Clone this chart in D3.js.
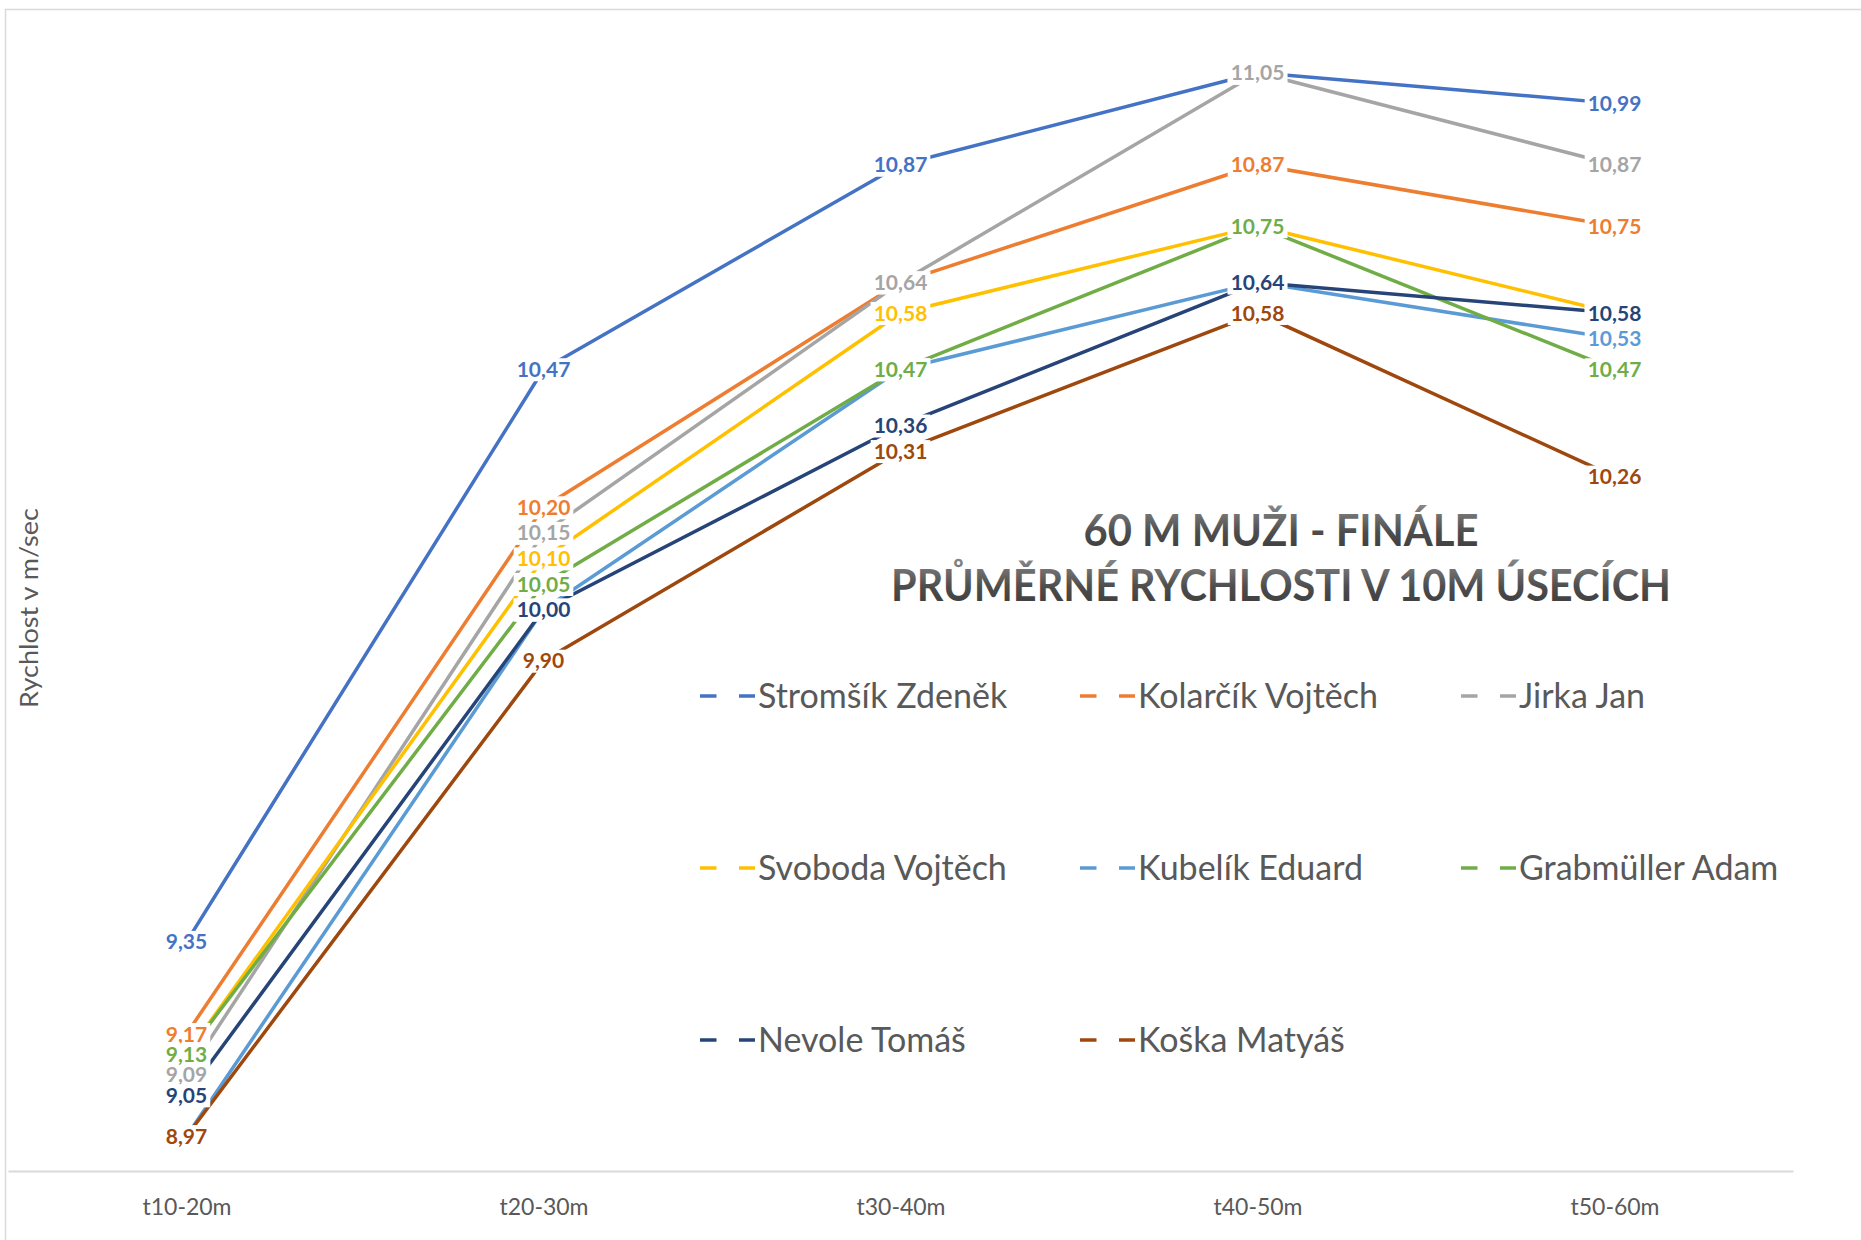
<!DOCTYPE html>
<html>
<head>
<meta charset="utf-8">
<script src="https://cdn.jsdelivr.net/npm/d3@7"></script>
<style>
  html, body { margin: 0; padding: 0; background: #ffffff; }
  svg { display: block; }
</style>
</head>
<body>
<svg id="chart" width="1861" height="1240"></svg>
<script>
// ---- data ----
const categories = ["t10-20m", "t20-30m", "t30-40m", "t40-50m", "t50-60m"];
const seriesNames = ["Stromšík Zdeněk", "Kolarčík Vojtěch", "Jirka Jan", "Svoboda Vojtěch",
                     "Kubelík Eduard", "Grabmüller Adam", "Nevole Tomáš", "Koška Matyáš"];
const stromsik   = [9.35, 10.47, 10.87, 11.05, 10.99];
const kolarcik   = [9.17, 10.20, 10.64, 10.87, 10.75];
const jirka      = [9.09, 10.15, 10.64, 11.05, 10.87];
const svoboda    = [9.13, 10.10, 10.58, 10.75, 10.58];
const kubelik    = [8.97, 10.00, 10.47, 10.64, 10.53];
const grabmuller = [9.13, 10.05, 10.47, 10.75, 10.47];
const nevole     = [9.05, 10.00, 10.36, 10.64, 10.58];
const koska      = [8.97, 9.90, 10.31, 10.58, 10.26];
const seriesValues = [stromsik, kolarcik, jirka, svoboda, kubelik, grabmuller, nevole, koska];
const colors = ["#4472C4", "#ED7D31", "#A5A5A5", "#FFC000", "#5B9BD5", "#70AD47", "#264478", "#9E480E"];
const titleLines = ["60 M MUŽI - FINÁLE", "PRŮMĚRNÉ RYCHLOSTI V 10M ÚSECÍCH"];
const yTitle = "Rychlost v m/sec";

// ---- layout ----
const svg = d3.select("#chart");
const FONT = "Lato, 'Open Sans', sans-serif";

// chart border
svg.append("rect").attr("x", 5.5).attr("y", 9.5).attr("width", 1900).attr("height", 1300)
  .attr("fill", "#fff").attr("stroke", "#d9d9d9").attr("stroke-width", 1.5);

const x = d3.scalePoint().domain(categories).range([8, 1793]).padding(0.5);
const y = d3.scaleLinear().domain([8.9, 11.2]).range([1172, -4]);

// x axis
const axisG = svg.append("g").attr("transform", "translate(0,1171)")
  .call(d3.axisBottom(x).tickSize(0).tickSizeOuter(0));
axisG.select(".domain").attr("stroke", "#d9d9d9").attr("stroke-width", 2);
axisG.selectAll(".tick text")
  .attr("y", 44).attr("dy", 0)
  .attr("fill", "#595959").style("font-family", FONT).style("font-size", "23px");

// y axis title
svg.append("text").attr("transform", "translate(38,608) rotate(-90)")
  .attr("text-anchor", "middle").attr("fill", "#595959")
  .attr("textLength", 200).attr("lengthAdjust", "spacingAndGlyphs")
  .style("font-family", FONT).style("font-size", "25px").text(yTitle);

// title gradient
const defs = svg.append("defs");
const grad = defs.append("linearGradient").attr("id", "tgrad")
  .attr("x1", 0).attr("y1", 0).attr("x2", 0).attr("y2", 1);
grad.append("stop").attr("offset", "0%").attr("stop-color", "#8a8a8a");
grad.append("stop").attr("offset", "55%").attr("stop-color", "#4d4d4d");
grad.append("stop").attr("offset", "100%").attr("stop-color", "#3a3a3a");

const titleSpec = [{ t: titleLines[0], base: 546, len: 395 }, { t: titleLines[1], base: 601, len: 780 }];
titleSpec.forEach(s => {
  svg.append("text").attr("x", 1281).attr("y", s.base).attr("text-anchor", "middle")
    .attr("textLength", s.len).attr("lengthAdjust", "spacingAndGlyphs")
    .attr("fill", "url(#tgrad)")
    .style("font-family", FONT).style("font-weight", 700).style("font-size", "43px")
    .text(s.t);
});

// legend
const legendCols = [700, 1080, 1461];
const legendRows = [696, 868, 1040];
seriesNames.forEach((name, i) => {
  const lx = legendCols[i % 3], ly = legendRows[Math.floor(i / 3)];
  const g = svg.append("g");
  g.append("line").attr("x1", lx).attr("x2", lx + 16.5).attr("y1", ly).attr("y2", ly)
    .attr("stroke", colors[i]).attr("stroke-width", 3.5);
  g.append("line").attr("x1", lx + 39).attr("x2", lx + 55).attr("y1", ly).attr("y2", ly)
    .attr("stroke", colors[i]).attr("stroke-width", 3.5);
  g.append("text").attr("x", lx + 58).attr("y", ly).attr("dy", "0.35em")
    .attr("fill", "#595959").style("font-family", FONT).style("font-size", "34px").text(name);
});

// lines
const line = d3.line().x((d, i) => x(categories[i])).y(d => y(d));
seriesValues.forEach((vals, s) => {
  svg.append("path").datum(vals).attr("d", line)
    .attr("fill", "none").attr("stroke", colors[s]).attr("stroke-width", 3.5)
    .attr("stroke-linejoin", "round");
});

// data labels
const loc = d3.formatLocale({ decimal: ",", thousands: " ", grouping: [3], currency: ["", ""] });
const fmt = loc.format(".2f");
seriesValues.forEach((vals, s) => {
  vals.forEach((v, i) => {
    const cx = x(categories[i]), cy = y(v);
    const g = svg.append("g");
    const rect = g.append("rect").attr("fill", "#fff");
    const t = g.append("text").attr("x", cx).attr("y", cy).attr("dy", "0.36em")
      .attr("text-anchor", "middle").attr("fill", colors[s])
      .style("font-family", FONT).style("font-weight", 700).style("font-size", "21px")
      .text(fmt(v));
    const w = t.node().getComputedTextLength();
    rect.attr("x", cx - w / 2 - 3).attr("y", cy - 11).attr("width", w + 6).attr("height", 23);
  });
});
</script>
</body>
</html>
